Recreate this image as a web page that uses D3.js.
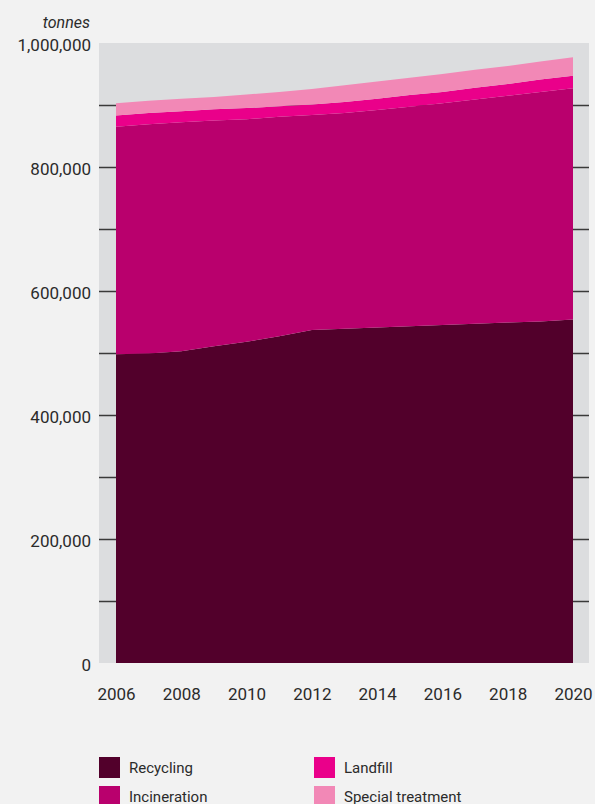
<!DOCTYPE html>
<html>
<head>
<meta charset="utf-8">
<script src="https://cdn.jsdelivr.net/npm/d3@7"></script>
<style>
  body { margin: 0; background: #f2f2f2; }
  svg { display: block; }
  text { font-family: Roboto, "Noto Sans", sans-serif; fill: #2b2b2b; }
</style>
</head>
<body>
<div class="chart"></div>
<script>

// values in thousands of tonnes
var years = [2006, 2007, 2008, 2009, 2010, 2011, 2012, 2013, 2014, 2015, 2016, 2017, 2018, 2019, 2020];
var recycling    = [498, 499, 503, 511, 518, 527, 537, 539, 541, 543, 545, 547, 549, 551, 554];
var incineration = [367, 370, 369, 364, 359, 354, 347, 348, 351, 354, 358, 362, 366, 370, 373];
var landfill     = [18, 18, 18, 18, 18, 17, 17, 18, 18, 19, 18, 19, 19, 20, 20];
var special      = [20, 20, 20, 20, 22, 23, 25, 27, 28, 28, 29, 29, 29, 29, 30];

var seriesNames = ["Recycling", "Incineration", "Landfill", "Special treatment"];
var colors = ["#52002b", "#b9006d", "#ea008a", "#f288b6"];
var yTicks = [0, 200000, 400000, 600000, 800000, 1000000];
var gridTicks = [100000, 200000, 300000, 400000, 500000, 600000, 700000, 800000, 900000];
var xTicks = [2006, 2008, 2010, 2012, 2014, 2016, 2018, 2020];

var rows = years.map(function(y, i) {
  return {
    year: y,
    "Recycling": recycling[i] * 1000,
    "Incineration": incineration[i] * 1000,
    "Landfill": landfill[i] * 1000,
    "Special treatment": special[i] * 1000
  };
});

var W = 595, H = 804;
var plot = {left: 99, right: 589, top: 43, bottom: 663};

var svg = d3.select(".chart").append("svg")
    .attr("width", W)
    .attr("height", H);

var x = d3.scaleLinear()
    .domain([2006, 2020])
    .range([116, 573]);

var y = d3.scaleLinear()
    .domain([0, 1000000])
    .range([plot.bottom, plot.top]);

// grey plot background
svg.append("rect")
    .attr("x", plot.left)
    .attr("y", plot.top)
    .attr("width", plot.right - plot.left)
    .attr("height", plot.bottom - plot.top)
    .style("fill", "#dcdddf");

// grid lines (mostly hidden by the areas)
var grid = svg.append("g")
    .attr("transform", "translate(" + plot.left + ",0)")
    .call(d3.axisRight(y)
      .tickValues(gridTicks)
      .tickSize(plot.right - plot.left)
      .tickFormat(""));
grid.select(".domain").remove();
grid.selectAll("line")
    .style("stroke", "#3a3a3a")
    .style("stroke-width", 1.4);

var stack = d3.stack().keys(seriesNames);
var layers = stack(rows);

var area = d3.area()
    .x(function(d) { return x(d.data.year); })
    .y0(function(d) { return y(d[0]); })
    .y1(function(d) { return y(d[1]); });

svg.append("g").selectAll("path")
    .data(layers)
    .enter().append("path")
    .attr("d", area)
    .style("fill", function(d, i) { return colors[i]; });

// y axis labels
var yAxis = svg.append("g")
    .attr("transform", "translate(" + 91 + ",0)")
    .call(d3.axisLeft(y)
      .tickValues(yTicks)
      .tickSize(0)
      .tickPadding(0)
      .tickFormat(d3.format(",")));
yAxis.select(".domain").remove();
yAxis.selectAll("text")
    .attr("font-size", 17)
    .attr("dy", "0.45em")
    .style("fill", "#2b2b2b");

svg.append("text")
    .text("tonnes")
    .attr("x", 90)
    .attr("y", 28)
    .attr("text-anchor", "end")
    .attr("font-size", 16)
    .style("font-style", "italic");

// x axis labels
var xAxis = svg.append("g")
    .attr("transform", "translate(0," + 688 + ")")
    .call(d3.axisBottom(x)
      .tickValues(xTicks)
      .tickSize(0)
      .tickPadding(0)
      .tickFormat(d3.format("d")));
xAxis.select(".domain").remove();
xAxis.selectAll("text")
    .attr("font-size", 17)
    .style("fill", "#2b2b2b");

// legend
var legendPos = [[99, 757], [99, 786], [314, 757], [314, 786]];
var legend = svg.append("g").selectAll("g")
    .data(seriesNames)
    .enter().append("g")
    .attr("transform", function(d, i) { return "translate(" + legendPos[i][0] + "," + legendPos[i][1] + ")"; });

legend.append("rect")
    .attr("width", 21)
    .attr("height", 21)
    .style("fill", function(d, i) { return colors[i]; });

legend.append("text")
    .text(function(d) { return d; })
    .attr("x", 30)
    .attr("y", 16)
    .attr("font-size", 15);

</script>
</body>
</html>
